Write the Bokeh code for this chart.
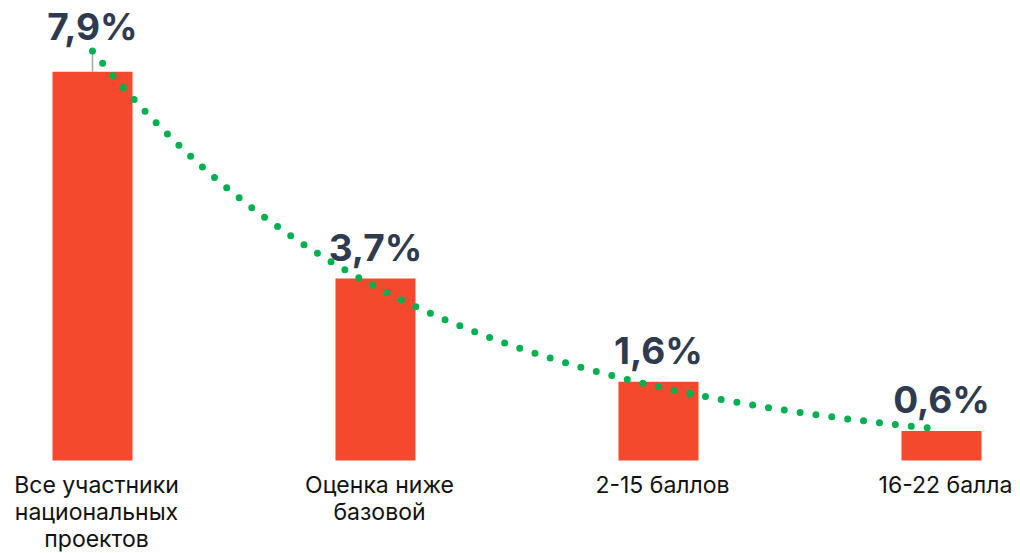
import numpy as np
from bokeh.plotting import figure
from bokeh.models import ColumnDataSource, Range1d
from bokeh.core.properties import value
from bokeh.embed import file_html
from bokeh.resources import INLINE

categories = ["Все участники\nнациональных\nпроектов", "Оценка ниже\nбазовой", "2-15 баллов", "16-22 балла"]
values = [7.9, 3.7, 1.6, 0.6]
labels = ["7,9%", "3,7%", "1,6%", "0,6%"]
label_offsets = [-45, -31, -31, -31]

xs = np.arange(len(values))

# exponential trend line fitted to the data (as in the source chart)
coef = np.polyfit(xs, np.log(values), 1)
tx = np.linspace(xs[0], xs[-1], 300)
ty = np.exp(np.polyval(coef, tx))
trend_at = np.exp(np.polyval(coef, xs))

W, H = 1020, 553
px_per_x = 283.0
x0_px = 92.0
px_per_y = 49.2
base_px = 460.0

p = figure(width=W, height=H, output_backend="svg", toolbar_location=None,
           x_range=Range1d(-x0_px / px_per_x, (W - x0_px) / px_per_x),
           y_range=Range1d(-(H - base_px) / px_per_y, base_px / px_per_y),
           min_border=0)
p.axis.visible = False
p.grid.visible = False
p.outline_line_color = None
p.background_fill_color = "white"
p.border_fill_color = "white"

src = ColumnDataSource(dict(x=xs, top=values, lab=labels, off=label_offsets, cat=categories))

p.vbar(x="x", top="top", bottom=0, width=80 / px_per_x, source=src,
       fill_color="#F4492C", line_color=None)

# leader line for the first label
p.segment(x0=[xs[0]], y0=[values[0]], x1=[xs[0]], y1=[trend_at[0]],
          line_color="#A6A6A6", line_width=1.5)

p.line(tx, ty, line_color="#00B050", line_width=7, line_dash="0 16", line_cap="round")

p.text(x="x", y="top", text="lab", y_offset="off", source=src,
       text_align="center", text_baseline="alphabetic",
       text_font=value("Inter"), text_font_style="bold", text_font_size="37px",
       text_color="#2E3A4F")

p.text(x="x", y=0, text="cat", source=src, y_offset=10, x_offset=4,
       text_align="center", text_baseline="top",
       text_font=value("Inter"), text_font_size="23px", text_color="#111111",
       text_line_height=0.98)

open("out.html", "w").write(file_html(p, INLINE))
